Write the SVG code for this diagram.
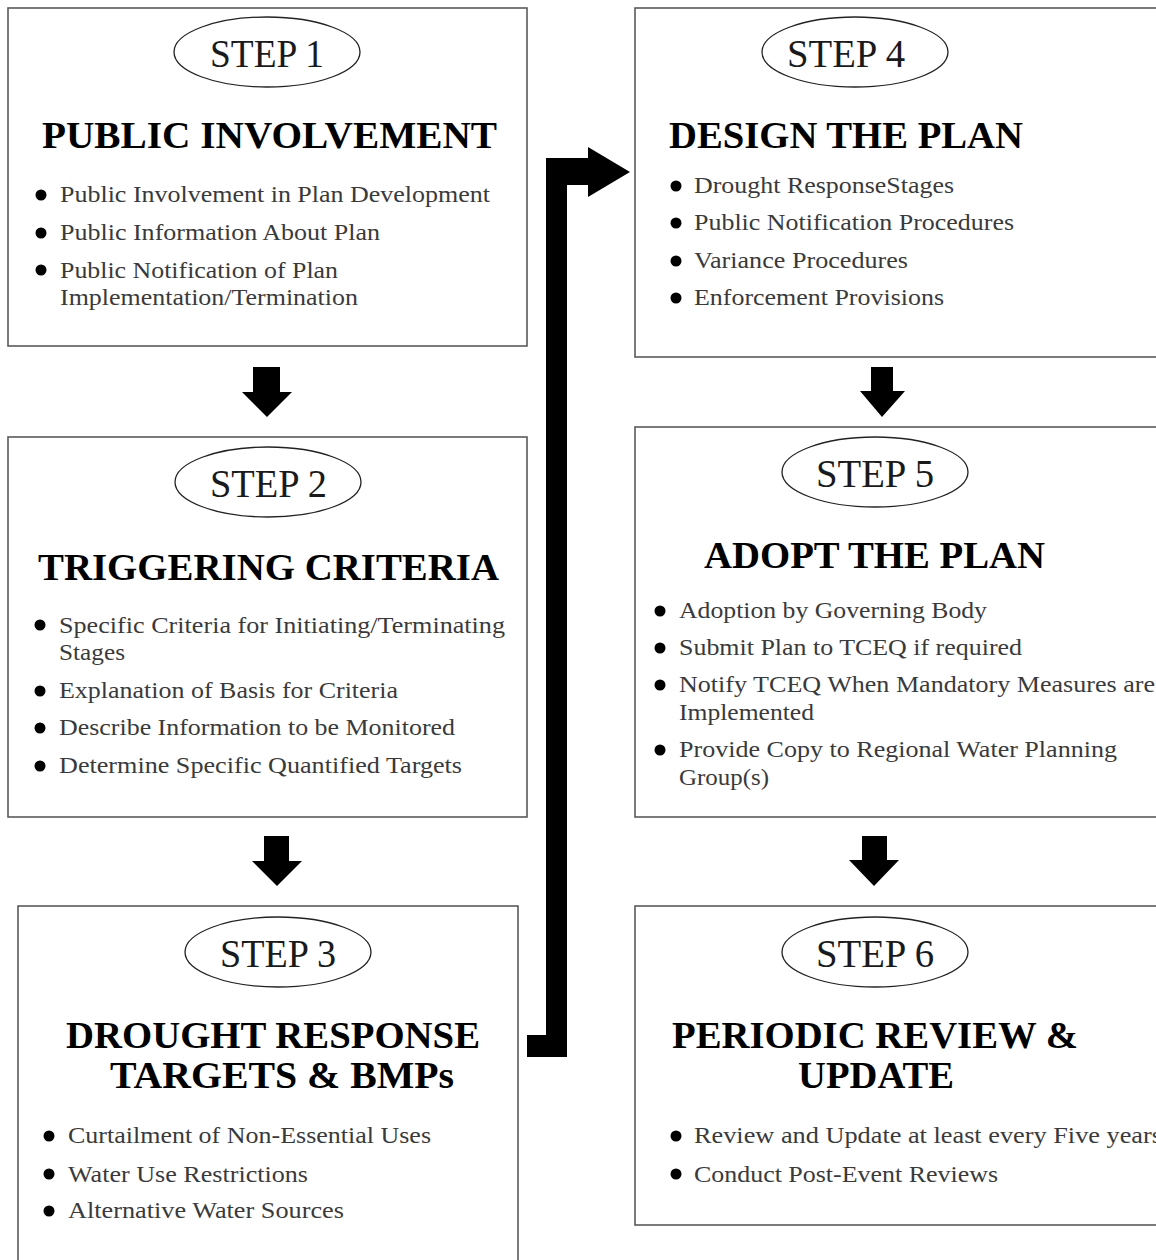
<svg xmlns="http://www.w3.org/2000/svg" width="1156" height="1260" viewBox="0 0 1156 1260">
<style>
.box{fill:#fff;stroke:#5a5a5a;stroke-width:1.6}
.ell{fill:none;stroke:#222;stroke-width:1.3}
.step{font-family:"Liberation Serif",serif;font-size:41px;fill:#1a1a1a;text-anchor:start}
.title{font-family:"Liberation Serif",serif;font-weight:bold;font-size:37px;fill:#000}
.item{font-family:"Liberation Serif",serif;font-size:23px;fill:#3a3a3a}
.dot{fill:#000}
.arrow{fill:#000}
</style>
<rect width="1156" height="1260" fill="#fff"/>
<g id="step1">
<rect class="box" x="8" y="8" width="519" height="338"/>
<ellipse class="ell" cx="267" cy="52" rx="93" ry="35"/>
<text class="step" x="210" y="67" textLength="114" lengthAdjust="spacingAndGlyphs">STEP 1</text>
<text class="title" x="42" y="148" textLength="455" lengthAdjust="spacingAndGlyphs">PUBLIC INVOLVEMENT</text>
<circle class="dot" cx="41" cy="195" r="5.5"/>
<text class="item" x="60" y="202" textLength="430" lengthAdjust="spacingAndGlyphs">Public Involvement in Plan Development</text>
<circle class="dot" cx="41" cy="233" r="5.5"/>
<text class="item" x="60" y="240" textLength="320" lengthAdjust="spacingAndGlyphs">Public Information About Plan</text>
<circle class="dot" cx="41" cy="270" r="5.5"/>
<text class="item" x="60" y="278" textLength="278" lengthAdjust="spacingAndGlyphs">Public Notification of Plan</text>
<text class="item" x="60" y="305" textLength="298" lengthAdjust="spacingAndGlyphs">Implementation/Termination</text>
</g>
<g id="step2">
<rect class="box" x="8" y="437" width="519" height="380"/>
<ellipse class="ell" cx="268" cy="482" rx="93" ry="35"/>
<text class="step" x="210" y="497" textLength="117" lengthAdjust="spacingAndGlyphs">STEP 2</text>
<text class="title" x="38" y="580" textLength="461" lengthAdjust="spacingAndGlyphs">TRIGGERING CRITERIA</text>
<circle class="dot" cx="40" cy="625" r="5.5"/>
<text class="item" x="59" y="633" textLength="446" lengthAdjust="spacingAndGlyphs">Specific Criteria for Initiating/Terminating</text>
<text class="item" x="59" y="660" textLength="66" lengthAdjust="spacingAndGlyphs">Stages</text>
<circle class="dot" cx="40" cy="691" r="5.5"/>
<text class="item" x="59" y="698" textLength="339" lengthAdjust="spacingAndGlyphs">Explanation of Basis for Criteria</text>
<circle class="dot" cx="40" cy="728" r="5.5"/>
<text class="item" x="59" y="735" textLength="396" lengthAdjust="spacingAndGlyphs">Describe Information to be Monitored</text>
<circle class="dot" cx="40" cy="766" r="5.5"/>
<text class="item" x="59" y="773" textLength="403" lengthAdjust="spacingAndGlyphs">Determine Specific Quantified Targets</text>
</g>
<g id="step3">
<rect class="box" x="18" y="906" width="500" height="360"/>
<ellipse class="ell" cx="278" cy="952" rx="93" ry="35"/>
<text class="step" x="220" y="967" textLength="116" lengthAdjust="spacingAndGlyphs">STEP 3</text>
<text class="title" x="66" y="1048" textLength="414" lengthAdjust="spacingAndGlyphs">DROUGHT RESPONSE</text>
<text class="title" x="110" y="1088" textLength="344" lengthAdjust="spacingAndGlyphs">TARGETS &amp; BMPs</text>
<circle class="dot" cx="49" cy="1136" r="5.5"/>
<text class="item" x="68" y="1143" textLength="363" lengthAdjust="spacingAndGlyphs">Curtailment of Non-Essential Uses</text>
<circle class="dot" cx="49" cy="1174" r="5.5"/>
<text class="item" x="68" y="1182" textLength="240" lengthAdjust="spacingAndGlyphs">Water Use Restrictions</text>
<circle class="dot" cx="49" cy="1211" r="5.5"/>
<text class="item" x="68" y="1218" textLength="276" lengthAdjust="spacingAndGlyphs">Alternative Water Sources</text>
</g>
<g id="step4">
<rect class="box" x="635" y="8" width="530" height="349"/>
<ellipse class="ell" cx="855" cy="52" rx="93" ry="35"/>
<text class="step" x="787" y="67" textLength="118" lengthAdjust="spacingAndGlyphs">STEP 4</text>
<text class="title" x="669" y="148" textLength="354" lengthAdjust="spacingAndGlyphs">DESIGN THE PLAN</text>
<circle class="dot" cx="676" cy="186" r="5.5"/>
<text class="item" x="694" y="193" textLength="260" lengthAdjust="spacingAndGlyphs">Drought ResponseStages</text>
<circle class="dot" cx="676" cy="223" r="5.5"/>
<text class="item" x="694" y="230" textLength="320" lengthAdjust="spacingAndGlyphs">Public Notification Procedures</text>
<circle class="dot" cx="676" cy="261" r="5.5"/>
<text class="item" x="694" y="268" textLength="214" lengthAdjust="spacingAndGlyphs">Variance Procedures</text>
<circle class="dot" cx="676" cy="298" r="5.5"/>
<text class="item" x="694" y="305" textLength="250" lengthAdjust="spacingAndGlyphs">Enforcement Provisions</text>
</g>
<g id="step5">
<rect class="box" x="635" y="427" width="530" height="390"/>
<ellipse class="ell" cx="875" cy="472" rx="93" ry="35"/>
<text class="step" x="816" y="487" textLength="118" lengthAdjust="spacingAndGlyphs">STEP 5</text>
<text class="title" x="704" y="568" textLength="341" lengthAdjust="spacingAndGlyphs">ADOPT THE PLAN</text>
<circle class="dot" cx="660" cy="611" r="5.5"/>
<text class="item" x="679" y="618" textLength="308" lengthAdjust="spacingAndGlyphs">Adoption by Governing Body</text>
<circle class="dot" cx="660" cy="648" r="5.5"/>
<text class="item" x="679" y="655" textLength="343" lengthAdjust="spacingAndGlyphs">Submit Plan to TCEQ if required</text>
<circle class="dot" cx="660" cy="685" r="5.5"/>
<text class="item" x="679" y="692" textLength="476" lengthAdjust="spacingAndGlyphs">Notify TCEQ When Mandatory Measures are</text>
<text class="item" x="679" y="720" textLength="135" lengthAdjust="spacingAndGlyphs">Implemented</text>
<circle class="dot" cx="660" cy="750" r="5.5"/>
<text class="item" x="679" y="757" textLength="438" lengthAdjust="spacingAndGlyphs">Provide Copy to Regional Water Planning</text>
<text class="item" x="679" y="785" textLength="90" lengthAdjust="spacingAndGlyphs">Group(s)</text>
</g>
<g id="step6">
<rect class="box" x="635" y="906" width="530" height="319"/>
<ellipse class="ell" cx="875" cy="952" rx="93" ry="35"/>
<text class="step" x="816" y="967" textLength="118" lengthAdjust="spacingAndGlyphs">STEP 6</text>
<text class="title" x="672" y="1048" textLength="406" lengthAdjust="spacingAndGlyphs">PERIODIC REVIEW &amp;</text>
<text class="title" x="798" y="1088" textLength="156" lengthAdjust="spacingAndGlyphs">UPDATE</text>
<circle class="dot" cx="676" cy="1136" r="5.5"/>
<text class="item" x="694" y="1143" textLength="468" lengthAdjust="spacingAndGlyphs">Review and Update at least every Five years</text>
<circle class="dot" cx="676" cy="1174" r="5.5"/>
<text class="item" x="694" y="1182" textLength="304" lengthAdjust="spacingAndGlyphs">Conduct Post-Event Reviews</text>
</g>
<g id="connectors">
<polygon class="arrow" points="253,367 280,367 280,392 292,392 267,417 242,392 253,392"/>
<polygon class="arrow" points="264,836 289,836 289,861 302,861 277,886 252,861 264,861"/>
<polygon class="arrow" points="871,367 893,367 893,391 905,391 882,417 860,391 871,391"/>
<polygon class="arrow" points="862,836 887,836 887,860 899,860 874,886 849,860 862,860"/>
<polygon class="arrow" points="527,1035 546,1035 546,158 588,158 588,147 630,172 588,197 588,185 567,185 567,1057 527,1057"/>
</g>
</svg>
